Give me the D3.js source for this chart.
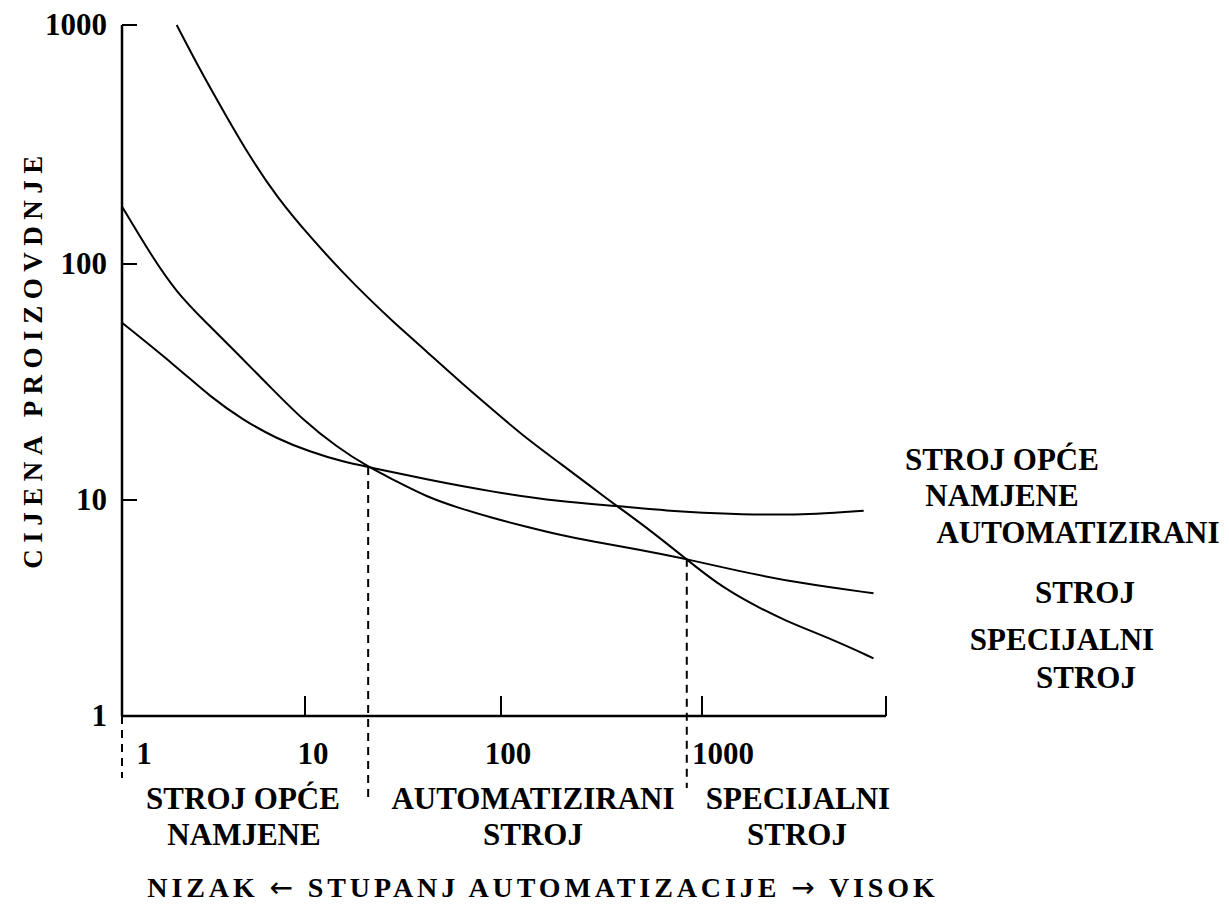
<!DOCTYPE html>
<html lang="hr">
<head>
<meta charset="UTF-8">
<title>Cijena proizvodnje</title>
<script src="https://cdn.jsdelivr.net/npm/d3@7"></script>
<style>
  body { margin: 0; background: #fff; overflow: hidden; }
  text { font-family: "Liberation Serif", "Times New Roman", serif; font-weight: bold; fill: #000; }
  .arrow { font-family: "DejaVu Sans", sans-serif; font-weight: normal; }
</style>
</head>
<body>
<script>
// podaci ocitani sa slike (x = kolicina, y = cijena)
const opceX  = [1, 1.99, 3.03, 4.6, 7.0, 10.6, 15.7, 21, 41.8, 91.4, 197, 377, 667, 1183, 2099, 3724, 6353];
const opceY  = [56.4, 36.7, 27.4, 21.8, 18.2, 16.0, 14.5, 13.8, 12.2, 10.8, 9.82, 9.38, 8.92, 8.67, 8.52, 8.61, 8.92];
const autoX  = [1, 1.42, 1.99, 2.9, 4.23, 6.44, 9.75, 14.5, 21, 28.2, 41.8, 61.8, 91.4, 134, 197, 288, 473, 832, 1431, 3076, 7110];
const autoY  = [174, 111, 75.4, 56.2, 42.0, 30.2, 21.8, 16.8, 13.8, 12.2, 10.3, 9.15, 8.23, 7.52, 6.88, 6.41, 5.93, 5.34, 4.74, 4.11, 3.70];
const specX  = [1.99, 2.67, 3.73, 5.0, 7.0, 10.6, 15.7, 21.5, 28.2, 41.8, 61.8, 91.4, 134, 197, 288, 377, 551, 832, 1183, 1733, 2541, 4498, 7110];
const specY  = [1000, 649, 413, 281, 191, 130, 91.4, 70.4, 56.9, 42.5, 31.7, 24.0, 18.2, 14.3, 11.2, 9.38, 7.26, 5.34, 4.11, 3.33, 2.78, 2.25, 1.85];

const xTicks = [1, 10, 100, 1000];
const yTicks = [1000, 100, 10, 1];
const granice = [1, 21, 840];          // granice podrucja (isprekidane linije)
const granicaY = [1, 13.8, 5.34];      // gdje isprekidana linija pocinje
const xMax = 8200;

const W = 1229, H = 922;
const svg = d3.select("body").append("svg").attr("width", W).attr("height", H);

const x = d3.scaleLog().domain([1, 10, 100, 1000, xMax]).range([122, 305, 501, 702, 886]);
const y = d3.scaleLog().domain([1, 10, 100, 1000]).range([716, 500, 264, 25]);

// osi
svg.append("line").attr("x1", x(1)).attr("x2", x(1)).attr("y1", y(1000)).attr("y2", y(1))
  .attr("stroke", "#000").attr("stroke-width", 2.5);
svg.append("line").attr("x1", x(1)).attr("x2", x(xMax)).attr("y1", y(1)).attr("y2", y(1))
  .attr("stroke", "#000").attr("stroke-width", 2.5);

svg.selectAll(".ytick").data(yTicks.filter(d => d > 1)).join("line")
  .attr("x1", x(1)).attr("x2", x(1) + 15)
  .attr("y1", d => y(d)).attr("y2", d => y(d))
  .attr("stroke", "#000").attr("stroke-width", 2);

svg.selectAll(".xtick").data([10, 100, 1000, xMax]).join("line")
  .attr("x1", d => x(d)).attr("x2", d => x(d))
  .attr("y1", y(1)).attr("y2", y(1) - 20)
  .attr("stroke", "#000").attr("stroke-width", 2);

svg.selectAll(".ylab").data(yTicks).join("text")
  .attr("x", 107).attr("y", d => y(d) + 10)
  .attr("text-anchor", "end").attr("font-size", 31)
  .text(d => d);

const xLabDx = [22, 8, 7, 21];
svg.selectAll(".xlab").data(xTicks).join("text")
  .attr("x", (d, i) => x(d) + xLabDx[i]).attr("y", 764)
  .attr("text-anchor", "middle").attr("font-size", 31)
  .text(d => d);

// krivulje
const line = d3.line().x(d => x(d[0])).y(d => y(d[1])).curve(d3.curveBasis);
[[opceX, opceY], [autoX, autoY], [specX, specY]].forEach(([xs, ys]) => {
  svg.append("path").datum(xs.map((v, i) => [v, ys[i]]))
    .attr("d", line).attr("fill", "none").attr("stroke", "#000").attr("stroke-width", 2);
});

// isprekidane linije
const dashEnd = [778, 797, 788];
svg.selectAll(".dash").data(granice).join("line")
  .attr("x1", d => x(d)).attr("x2", d => x(d))
  .attr("y1", (d, i) => y(granicaY[i])).attr("y2", (d, i) => dashEnd[i])
  .attr("stroke", "#000").attr("stroke-width", 2).attr("stroke-dasharray", "8,6");

// naslovi osi
svg.append("text")
  .attr("transform", "translate(42,359) rotate(-90)")
  .attr("text-anchor", "middle").attr("font-size", 27).attr("letter-spacing", 6.5)
  .text("CIJENA PROIZOVDNJE");

const naslov = svg.append("text")
  .attr("x", 543).attr("y", 897)
  .attr("text-anchor", "middle").attr("font-size", 28).attr("letter-spacing", 3.9);
naslov.append("tspan").text("NIZAK ");
naslov.append("tspan").attr("class", "arrow").text("\u2190");
naslov.append("tspan").text(" STUPANJ AUTOMATIZACIJE ");
naslov.append("tspan").attr("class", "arrow").text("\u2192");
naslov.append("tspan").text(" VISOK");

// oznake podrucja
const podrucja = [
  {lines: ["STROJ OPĆE", "NAMJENE"], cx: [243, 244]},
  {lines: ["AUTOMATIZIRANI", "STROJ"], cx: [533, 533]},
  {lines: ["SPECIJALNI", "STROJ"], cx: [798, 797]}
];
podrucja.forEach(p => {
  p.lines.forEach((t, i) => {
    svg.append("text").attr("x", p.cx[i]).attr("y", 809 + i * 36)
      .attr("text-anchor", "middle").attr("font-size", 31).text(t);
  });
});

// oznake krivulja desno
const legenda = [
  {t: "STROJ OPĆE", x: 1002, y: 470}, {t: "NAMJENE", x: 1002, y: 506},
  {t: "AUTOMATIZIRANI", x: 1078, y: 543}, {t: "STROJ", x: 1085, y: 603},
  {t: "SPECIJALNI", x: 1062, y: 650}, {t: "STROJ", x: 1086, y: 688}
];
svg.selectAll(".leg").data(legenda).join("text")
  .attr("x", d => d.x).attr("y", d => d.y)
  .attr("text-anchor", "middle").attr("font-size", 31).text(d => d.t);
</script>
</body>
</html>
